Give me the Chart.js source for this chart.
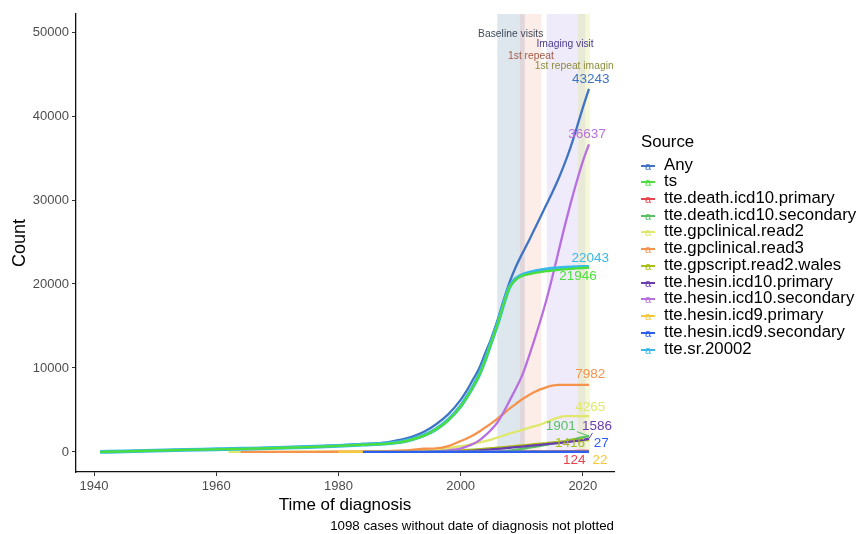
<!DOCTYPE html>
<html>
<head>
<meta charset="utf-8">
<script src="https://cdn.jsdelivr.net/npm/chart.js@4.4.1/dist/chart.umd.min.js"></script>
<style>
  body { margin: 0; background: #fff; font-family: "Liberation Sans", Arial, Helvetica, sans-serif; }
  #wrap { position: relative; width: 860px; height: 534px; }
  #chart { position: absolute; left: 0; top: 0; }
  .ltitle { position: absolute; left: 641px; top: 131px; font-size: 16.8px; line-height: 22px; color: #000; }
  .lrow { position: absolute; left: 641px; height: 16px; }
  .lrow .key { position: absolute; left: 0; top: 0; width: 14px; height: 16px; }
  .lrow .key .ln { position: absolute; left: 0; top: 7px; width: 14px; height: 2px; }
  .lrow .key .gl { position: absolute; left: 0; width: 14px; top: 1px; text-align: center; font-size: 11px; line-height: 14px; }
  .lrow .txt { position: absolute; left: 23px; top: -3px; font-size: 16.8px; line-height: 20px; white-space: nowrap; color: #000; }
  #caption { position: absolute; right: 246px; top: 518px; font-size: 13.3px; line-height: 16px; color: #000; white-space: nowrap; }
</style>
</head>
<body>
<div id="wrap">
  <canvas id="chart" width="860" height="534"></canvas>
  <div id="legend"></div>
  <div id="caption">1098 cases without date of diagnosis not plotted</div>
</div>
<script>
// Years shared by every series (null = source not yet in use)
const years = [1941, 1945, 1950, 1955, 1960, 1962, 1964, 1970, 1975, 1980, 1984, 1988, 1990, 1992, 1994, 1996, 1998, 2000,
  2001, 2002, 2003, 2004, 2005, 2006, 2007, 2008, 2009, 2010, 2011, 2012, 2013, 2014, 2015, 2016, 2017, 2018, 2019, 2020, 2021];

const N = null;
const anyCount = [0, 80, 180, 260, 330, 360, 390, 500, 620, 780, 950, 1150, 1430, 1800, 2400, 3300, 4500, 6200,
  7300, 8600, 9900, 11700, 13500, 15600, 18000, 20200, 22000, 23500, 24900, 26400, 27900, 29400, 30900, 32500, 34300, 36300, 38600, 41000, 43243];
const tsCount = [0, 70, 165, 245, 315, 345, 375, 470, 580, 720, 860, 1000, 1150, 1480, 1950, 2700, 3800, 5400,
  6500, 7700, 9100, 10900, 13000, 15100, 17500, 19600, 20500, 20950, 21150, 21300, 21420, 21520, 21600, 21680, 21750, 21810, 21860, 21905, 21946];
const deathPrimary = [N, N, N, N, N, N, N, N, N, N, N, N, N, N, N, N, N, N,
  N, N, N, N, N, 0, 10, 20, 30, 40, 48, 56, 64, 72, 80, 88, 96, 104, 111, 118, 124];
const deathSecondary = [N, N, N, N, N, N, N, N, N, N, N, N, N, N, N, N, N, N,
  N, N, N, N, N, 0, 60, 150, 250, 360, 480, 600, 720, 850, 980, 1120, 1270, 1430, 1590, 1750, 1901];
const gpRead2 = [N, N, N, N, N, 0, 5, 15, 25, 40, 60, 90, 120, 160, 220, 320, 470, 680,
  800, 950, 1100, 1280, 1480, 1700, 1950, 2200, 2400, 2600, 2850, 3050, 3250, 3550, 3850, 4100, 4265, 4265, 4265, 4265, 4265];
const gpRead3 = [N, N, N, N, N, N, 0, 5, 10, 25, 50, 100, 160, 250, 380, 420, 700, 1300,
  1600, 1950, 2400, 2900, 3400, 3950, 4550, 5150, 5700, 6250, 6700, 7100, 7450, 7700, 7900, 7982, 7982, 7982, 7982, 7982, 7982];
const gpscriptWales = [N, N, N, N, N, N, N, N, N, N, N, N, 0, 20, 50, 90, 140, 200,
  240, 280, 330, 380, 440, 500, 570, 640, 710, 780, 850, 920, 990, 1060, 1130, 1200, 1270, 1340, 1390, 1410, 1416];
const hesinIcd10P = [N, N, N, N, N, N, N, N, N, N, N, N, N, N, N, N, 0, 60,
  100, 140, 190, 240, 300, 360, 430, 500, 570, 640, 710, 780, 850, 920, 990, 1060, 1140, 1220, 1310, 1420, 1586];
const hesinIcd10S = [N, N, N, N, N, N, N, N, N, N, N, N, N, 0, 20, 80, 200, 400,
  650, 950, 1350, 1950, 2650, 3500, 4700, 6100, 7500, 9000, 11000, 13200, 15500, 18000, 20800, 23800, 26800, 29600, 32200, 34600, 36637];
const hesinIcd9P = [N, N, N, N, N, N, N, N, N, 0, 5, 10, 13, 16, 19, 22, 22, 22,
  22, 22, 22, 22, 22, 22, 22, 22, 22, 22, 22, 22, 22, 22, 22, 22, 22, 22, 22, 22, 22];
const hesinIcd9S = [N, N, N, N, N, N, N, N, N, N, 0, 6, 10, 15, 20, 25, 27, 27,
  27, 27, 27, 27, 27, 27, 27, 27, 27, 27, 27, 27, 27, 27, 27, 27, 27, 27, 27, 27, 27];
const sr20002 = [0, 75, 170, 250, 320, 350, 380, 475, 590, 730, 870, 1020, 1170, 1500, 1980, 2730, 3850, 5450,
  6550, 7750, 9150, 10950, 13050, 15150, 17550, 19650, 20600, 21050, 21300, 21480, 21620, 21730, 21820, 21890, 21940, 21980, 22010, 22030, 22043];

const sourceNames = ['Any', 'ts', 'tte.death.icd10.primary', 'tte.death.icd10.secondary', 'tte.gpclinical.read2',
  'tte.gpclinical.read3', 'tte.gpscript.read2.wales', 'tte.hesin.icd10.primary', 'tte.hesin.icd10.secondary',
  'tte.hesin.icd9.primary', 'tte.hesin.icd9.secondary', 'tte.sr.20002'];
const sourceValues = [anyCount, tsCount, deathPrimary, deathSecondary, gpRead2, gpRead3, gpscriptWales,
  hesinIcd10P, hesinIcd10S, hesinIcd9P, hesinIcd9S, sr20002];
const sourceColors = ['#3f74c4', '#4cdf3c', '#e8424c', '#58c262', '#dfe86c', '#f5934c', '#a9c014',
  '#6a3cb2', '#b86fe0', '#f6c83c', '#2b5ff0', '#38b9e9'];

// End labels, placed in data units (year, count); some get a leader line
const endLabels = ['43243', '21946', '124', '1901', '4265', '7982', '1416', '1586', '36637', '22', '27', '22043'];
const endLabelX = [2021.3, 2019.2, 2018.6, 2016.4, 2021.2, 2021.2, 2017.9, 2022.3, 2020.7, 2022.8, 2023.0, 2021.2];
const endLabelY = [44390, 20880, -950, 3100, 5370, 9190, 1070, 3100, 37830, -950, 1070, 23030];
const leaderLines = [3, 7];

// UK Biobank visit windows
const bandNames = ['Baseline visits', '1st repeat', 'Imaging visit', '1st repeat imaging'];
const bandStart = [2006.0, 2009.7, 2014.1, 2019.2];
const bandEnd = [2010.5, 2013.2, 2020.4, 2021.2];
const bandLabelX = [2008.2, 2011.5, 2017.1, 2019.05];
const bandLabelY = [49760, 47140, 48570, 45940];
const bandFill = ['rgba(70,115,160,0.18)', 'rgba(240,135,105,0.15)', 'rgba(150,115,225,0.14)', 'rgba(215,225,105,0.24)'];
const bandText = ['#404c5c', '#a35a44', '#4b3a8e', '#8b8d3c'];

const xTicks = [1940, 1960, 1980, 2000, 2020];
const yTicks = [0, 10000, 20000, 30000, 40000, 50000];

const FONT = '"Liberation Sans", Arial, Helvetica, sans-serif';

// Build datasets
const datasets = sourceNames.map((name, i) => ({
  label: name,
  data: years.map((yr, j) => ({ x: yr, y: sourceValues[i][j] })),
  borderColor: sourceColors[i],
  borderWidth: name === 'tte.sr.20002' ? 3.8 : 2.3,
  pointRadius: 0,
  cubicInterpolationMode: 'monotone',
  spanGaps: false,
  fill: false,
  order: name === 'ts' ? 0 : 20 - i
}));

// Shaded visit windows behind the lines, count labels on top
const bandsPlugin = {
  id: 'bands',
  beforeDatasetsDraw(chart) {
    const { ctx, chartArea, scales } = chart;
    ctx.save();
    ctx.beginPath();
    ctx.rect(chartArea.left, chartArea.top, chartArea.right - chartArea.left, chartArea.bottom - chartArea.top);
    ctx.clip();
    const y0 = scales.y.getPixelForValue(0);
    bandNames.forEach((b, i) => {
      const x1 = scales.x.getPixelForValue(bandStart[i]);
      const x2 = scales.x.getPixelForValue(bandEnd[i]);
      ctx.fillStyle = bandFill[i];
      ctx.fillRect(x1, chartArea.top, x2 - x1, y0 - chartArea.top);
    });
    ctx.font = '10.3px ' + FONT;
    ctx.textAlign = 'center';
    ctx.textBaseline = 'middle';
    bandNames.forEach((b, i) => {
      ctx.fillStyle = bandText[i];
      ctx.fillText(b, scales.x.getPixelForValue(bandLabelX[i]), scales.y.getPixelForValue(bandLabelY[i]));
    });
    ctx.restore();
  },
  afterDatasetsDraw(chart) {
    const { ctx, scales } = chart;
    ctx.save();
    ctx.font = '13.5px ' + FONT;
    ctx.textAlign = 'center';
    ctx.textBaseline = 'middle';
    endLabels.forEach((t, i) => {
      const cx = scales.x.getPixelForValue(endLabelX[i]);
      const cy = scales.y.getPixelForValue(endLabelY[i]);
      ctx.fillStyle = sourceColors[i];
      ctx.fillText(t, cx, cy);
      if (leaderLines.includes(i)) {
        const last = years.length - 1;
        const ex = scales.x.getPixelForValue(years[last]);
        const ey = scales.y.getPixelForValue(sourceValues[i][last]);
        const dx = ex - cx, dy = ey - cy;
        const hw = ctx.measureText(t).width / 2 + 1, hh = 7;
        const tExit = Math.min(hw / Math.abs(dx || 1e-6), hh / Math.abs(dy || 1e-6));
        if (tExit < 1) {
          ctx.strokeStyle = sourceColors[i];
          ctx.lineWidth = 1;
          ctx.beginPath();
          ctx.moveTo(cx + dx * tExit, cy + dy * tExit);
          ctx.lineTo(ex, ey);
          ctx.stroke();
        }
      }
    });
    ctx.restore();
  }
};

new Chart(document.getElementById('chart'), {
  type: 'line',
  data: { datasets },
  options: {
    responsive: false,
    animation: false,
    events: [],
    layout: { padding: { left: 0, right: 246, top: 14, bottom: 14 } },
    plugins: { legend: { display: false }, tooltip: { enabled: false } },
    scales: {
      x: {
        type: 'linear',
        min: 1937.05,
        max: 2025.1,
        afterBuildTicks: s => { s.ticks = xTicks.map(v => ({ value: v })); },
        afterFit: s => { s.height = 48; },
        ticks: { font: { family: FONT, size: 13 }, color: '#4d4d4d', padding: 3, callback: v => String(v), maxRotation: 0 },
        grid: { drawOnChartArea: false, tickLength: 4, color: '#333', lineWidth: 1 },
        border: { color: '#111', width: 1.3 },
        title: { display: true, text: 'Time of diagnosis', color: '#000', font: { family: FONT, size: 17 }, padding: { top: 0, bottom: 4 } }
      },
      y: {
        type: 'linear',
        min: -2387,
        max: 52150,
        afterBuildTicks: s => { s.ticks = yTicks.map(v => ({ value: v })); },
        afterFit: s => { s.width = 76; },
        ticks: { font: { family: FONT, size: 13 }, color: '#4d4d4d', padding: 3, callback: v => String(v) },
        grid: { drawOnChartArea: false, tickLength: 4, color: '#333', lineWidth: 1 },
        border: { color: '#111', width: 1.3 },
        title: { display: true, text: 'Count', color: '#000', font: { family: FONT, size: 18 }, padding: { top: 9, bottom: 0 } }
      }
    }
  },
  plugins: [bandsPlugin]
});

// Legend with ggplot-style "a" keys
const legend = document.getElementById('legend');
const title = document.createElement('div');
title.className = 'ltitle';
title.textContent = 'Source';
legend.appendChild(title);
sourceNames.forEach((name, i) => {
  const row = document.createElement('div');
  row.className = 'lrow';
  row.style.top = (157.5 + i * 16.73) + 'px';
  row.innerHTML = '<span class="key"><span class="ln" style="background:' + sourceColors[i] + '"></span>' +
    '<span class="gl" style="color:' + sourceColors[i] + '">a</span></span><span class="txt"></span>';
  row.querySelector('.txt').textContent = name;
  legend.appendChild(row);
});
</script>
</body>
</html>
